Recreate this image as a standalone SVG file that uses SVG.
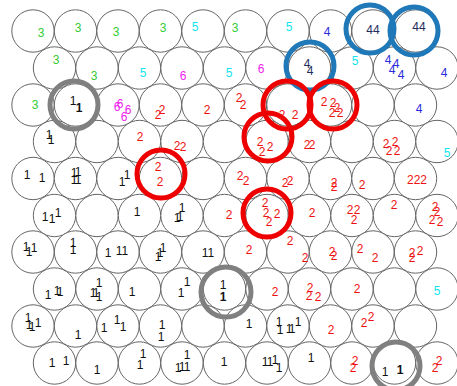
<svg xmlns="http://www.w3.org/2000/svg" width="457" height="386" viewBox="0 0 457 386">
<style>
.cell{fill:#fff;stroke:#666;stroke-width:1}
text{font-family:"Liberation Sans",Arial,sans-serif;font-size:12px;text-anchor:middle}
.g{fill:#33cc33}.c{fill:#11e4ee}.b{fill:#2a2ad8}.n{fill:#1f2d5c}.m{fill:#ee22ee}.r{fill:#ee1111}.k{fill:#111}
.bd{font-weight:bold}
.ring{fill:none;stroke-width:5}
.gray{stroke:#808080}.blue{stroke:#1f78b8}.red{stroke:#ee0000}
</style>
<rect width="457" height="386" fill="#fff"/>
<g id="grid">
<g id="cell-0-0"><circle class="cell" cx="33" cy="31" r="21.2"/></g>
<g id="cell-0-1"><circle class="cell" cx="75.5" cy="31" r="21.2"/></g>
<g id="cell-0-2"><circle class="cell" cx="118" cy="31" r="21.2"/></g>
<g id="cell-0-3"><circle class="cell" cx="160.5" cy="31" r="21.2"/></g>
<g id="cell-0-4"><circle class="cell" cx="203" cy="31" r="21.2"/></g>
<g id="cell-0-5"><circle class="cell" cx="245.5" cy="31" r="21.2"/></g>
<g id="cell-0-6"><circle class="cell" cx="288" cy="31" r="21.2"/></g>
<g id="cell-0-7"><circle class="cell" cx="330.5" cy="31" r="21.2"/></g>
<g id="cell-0-8"><circle class="cell" cx="373" cy="31" r="21.2"/></g>
<g id="cell-0-9"><circle class="cell" cx="415.5" cy="31" r="21.2"/></g>
<g id="cell-1-0"><circle class="cell" cx="54.5" cy="68" r="21.2"/></g>
<g id="cell-1-1"><circle class="cell" cx="97" cy="68" r="21.2"/></g>
<g id="cell-1-2"><circle class="cell" cx="139.5" cy="68" r="21.2"/></g>
<g id="cell-1-3"><circle class="cell" cx="182" cy="68" r="21.2"/></g>
<g id="cell-1-4"><circle class="cell" cx="224.5" cy="68" r="21.2"/></g>
<g id="cell-1-5"><circle class="cell" cx="267" cy="68" r="21.2"/></g>
<g id="cell-1-6"><circle class="cell" cx="309.5" cy="68" r="21.2"/></g>
<g id="cell-1-7"><circle class="cell" cx="352" cy="68" r="21.2"/></g>
<g id="cell-1-8"><circle class="cell" cx="394.5" cy="68" r="21.2"/></g>
<g id="cell-1-9"><circle class="cell" cx="437" cy="68" r="21.2"/></g>
<g id="cell-2-0"><circle class="cell" cx="33" cy="105" r="21.2"/></g>
<g id="cell-2-1"><circle class="cell" cx="75.5" cy="105" r="21.2"/></g>
<g id="cell-2-2"><circle class="cell" cx="118" cy="105" r="21.2"/></g>
<g id="cell-2-3"><circle class="cell" cx="160.5" cy="105" r="21.2"/></g>
<g id="cell-2-4"><circle class="cell" cx="203" cy="105" r="21.2"/></g>
<g id="cell-2-5"><circle class="cell" cx="245.5" cy="105" r="21.2"/></g>
<g id="cell-2-6"><circle class="cell" cx="288" cy="105" r="21.2"/></g>
<g id="cell-2-7"><circle class="cell" cx="330.5" cy="105" r="21.2"/></g>
<g id="cell-2-8"><circle class="cell" cx="373" cy="105" r="21.2"/></g>
<g id="cell-2-9"><circle class="cell" cx="415.5" cy="105" r="21.2"/></g>
<g id="cell-3-0"><circle class="cell" cx="54.5" cy="141.5" r="21.2"/></g>
<g id="cell-3-1"><circle class="cell" cx="97" cy="141.5" r="21.2"/></g>
<g id="cell-3-2"><circle class="cell" cx="139.5" cy="141.5" r="21.2"/></g>
<g id="cell-3-3"><circle class="cell" cx="182" cy="141.5" r="21.2"/></g>
<g id="cell-3-4"><circle class="cell" cx="224.5" cy="141.5" r="21.2"/></g>
<g id="cell-3-5"><circle class="cell" cx="267" cy="141.5" r="21.2"/></g>
<g id="cell-3-6"><circle class="cell" cx="309.5" cy="141.5" r="21.2"/></g>
<g id="cell-3-7"><circle class="cell" cx="352" cy="141.5" r="21.2"/></g>
<g id="cell-3-8"><circle class="cell" cx="394.5" cy="141.5" r="21.2"/></g>
<g id="cell-3-9"><circle class="cell" cx="437" cy="141.5" r="21.2"/></g>
<g id="cell-4-0"><circle class="cell" cx="33" cy="178.5" r="21.2"/></g>
<g id="cell-4-1"><circle class="cell" cx="75.5" cy="178.5" r="21.2"/></g>
<g id="cell-4-2"><circle class="cell" cx="118" cy="178.5" r="21.2"/></g>
<g id="cell-4-3"><circle class="cell" cx="160.5" cy="178.5" r="21.2"/></g>
<g id="cell-4-4"><circle class="cell" cx="203" cy="178.5" r="21.2"/></g>
<g id="cell-4-5"><circle class="cell" cx="245.5" cy="178.5" r="21.2"/></g>
<g id="cell-4-6"><circle class="cell" cx="288" cy="178.5" r="21.2"/></g>
<g id="cell-4-7"><circle class="cell" cx="330.5" cy="178.5" r="21.2"/></g>
<g id="cell-4-8"><circle class="cell" cx="373" cy="178.5" r="21.2"/></g>
<g id="cell-4-9"><circle class="cell" cx="415.5" cy="178.5" r="21.2"/></g>
<g id="cell-5-0"><circle class="cell" cx="54.5" cy="215.5" r="21.2"/></g>
<g id="cell-5-1"><circle class="cell" cx="97" cy="215.5" r="21.2"/></g>
<g id="cell-5-2"><circle class="cell" cx="139.5" cy="215.5" r="21.2"/></g>
<g id="cell-5-3"><circle class="cell" cx="182" cy="215.5" r="21.2"/></g>
<g id="cell-5-4"><circle class="cell" cx="224.5" cy="215.5" r="21.2"/></g>
<g id="cell-5-5"><circle class="cell" cx="267" cy="215.5" r="21.2"/></g>
<g id="cell-5-6"><circle class="cell" cx="309.5" cy="215.5" r="21.2"/></g>
<g id="cell-5-7"><circle class="cell" cx="352" cy="215.5" r="21.2"/></g>
<g id="cell-5-8"><circle class="cell" cx="394.5" cy="215.5" r="21.2"/></g>
<g id="cell-5-9"><circle class="cell" cx="437" cy="215.5" r="21.2"/></g>
<g id="cell-6-0"><circle class="cell" cx="33" cy="252" r="21.2"/></g>
<g id="cell-6-1"><circle class="cell" cx="75.5" cy="252" r="21.2"/></g>
<g id="cell-6-2"><circle class="cell" cx="118" cy="252" r="21.2"/></g>
<g id="cell-6-3"><circle class="cell" cx="160.5" cy="252" r="21.2"/></g>
<g id="cell-6-4"><circle class="cell" cx="203" cy="252" r="21.2"/></g>
<g id="cell-6-5"><circle class="cell" cx="245.5" cy="252" r="21.2"/></g>
<g id="cell-6-6"><circle class="cell" cx="288" cy="252" r="21.2"/></g>
<g id="cell-6-7"><circle class="cell" cx="330.5" cy="252" r="21.2"/></g>
<g id="cell-6-8"><circle class="cell" cx="373" cy="252" r="21.2"/></g>
<g id="cell-6-9"><circle class="cell" cx="415.5" cy="252" r="21.2"/></g>
<g id="cell-7-0"><circle class="cell" cx="54.5" cy="289" r="21.2"/></g>
<g id="cell-7-1"><circle class="cell" cx="97" cy="289" r="21.2"/></g>
<g id="cell-7-2"><circle class="cell" cx="139.5" cy="289" r="21.2"/></g>
<g id="cell-7-3"><circle class="cell" cx="182" cy="289" r="21.2"/></g>
<g id="cell-7-4"><circle class="cell" cx="224.5" cy="289" r="21.2"/></g>
<g id="cell-7-5"><circle class="cell" cx="267" cy="289" r="21.2"/></g>
<g id="cell-7-6"><circle class="cell" cx="309.5" cy="289" r="21.2"/></g>
<g id="cell-7-7"><circle class="cell" cx="352" cy="289" r="21.2"/></g>
<g id="cell-7-8"><circle class="cell" cx="394.5" cy="289" r="21.2"/></g>
<g id="cell-7-9"><circle class="cell" cx="437" cy="289" r="21.2"/></g>
<g id="cell-8-0"><circle class="cell" cx="33" cy="326" r="21.2"/></g>
<g id="cell-8-1"><circle class="cell" cx="75.5" cy="326" r="21.2"/></g>
<g id="cell-8-2"><circle class="cell" cx="118" cy="326" r="21.2"/></g>
<g id="cell-8-3"><circle class="cell" cx="160.5" cy="326" r="21.2"/></g>
<g id="cell-8-4"><circle class="cell" cx="203" cy="326" r="21.2"/></g>
<g id="cell-8-5"><circle class="cell" cx="245.5" cy="326" r="21.2"/></g>
<g id="cell-8-6"><circle class="cell" cx="288" cy="326" r="21.2"/></g>
<g id="cell-8-7"><circle class="cell" cx="330.5" cy="326" r="21.2"/></g>
<g id="cell-8-8"><circle class="cell" cx="373" cy="326" r="21.2"/></g>
<g id="cell-8-9"><circle class="cell" cx="415.5" cy="326" r="21.2"/></g>
<g id="cell-9-0"><circle class="cell" cx="54.5" cy="363" r="21.2"/></g>
<g id="cell-9-1"><circle class="cell" cx="97" cy="363" r="21.2"/></g>
<g id="cell-9-2"><circle class="cell" cx="139.5" cy="363" r="21.2"/></g>
<g id="cell-9-3"><circle class="cell" cx="182" cy="363" r="21.2"/></g>
<g id="cell-9-4"><circle class="cell" cx="224.5" cy="363" r="21.2"/></g>
<g id="cell-9-5"><circle class="cell" cx="267" cy="363" r="21.2"/></g>
<g id="cell-9-6"><circle class="cell" cx="309.5" cy="363" r="21.2"/></g>
<g id="cell-9-7"><circle class="cell" cx="352" cy="363" r="21.2"/></g>
<g id="cell-9-8"><circle class="cell" cx="394.5" cy="363" r="21.2"/></g>
<g id="cell-9-9"><circle class="cell" cx="437" cy="363" r="21.2"/></g>
</g>
<g id="rings">
<circle class="ring gray" cx="74" cy="105" r="24"/>
<circle class="ring gray" cx="226" cy="292" r="25"/>
<circle class="ring gray" cx="396" cy="366" r="24"/>
<circle class="ring blue" cx="370" cy="29" r="24"/>
<circle class="ring blue" cx="414" cy="31" r="24"/>
<circle class="ring blue" cx="310" cy="66" r="24"/>
<circle class="ring red" cx="287" cy="105" r="24"/>
<circle class="ring red" cx="333" cy="105" r="24"/>
<circle class="ring red" cx="268" cy="137" r="24"/>
<circle class="ring red" cx="161" cy="174" r="24"/>
<circle class="ring red" cx="267" cy="213" r="24"/>
</g>
<g id="labels">
<text class="g" x="41" y="37">3</text><text class="g" x="78" y="32">3</text><text class="g" x="116" y="36">3</text><text class="g" x="163" y="32">3</text><text class="c" x="195" y="31">5</text><text class="g" x="235" y="32">3</text><text class="c" x="289" y="31">5</text><text class="b" x="327" y="36">4</text><text class="n" x="373" y="34">44</text><text class="n" x="419" y="31">44</text>
<text class="g" x="56" y="64">3</text><text class="g" x="94" y="80">3</text><text class="c" x="143" y="77">5</text><text class="m" x="183" y="80">6</text><text class="c" x="229" y="77">5</text><text class="m" x="261" y="73">6</text><text class="n" x="307" y="68">4</text><text class="n" x="310" y="75">4</text><text class="c" x="355" y="65">5</text><text class="b" x="388" y="64">4</text><text class="b" x="396" y="68">4</text><text class="b" x="392" y="74">4</text><text class="b" x="401" y="79">4</text><text class="b" x="444" y="77">4</text>
<text class="g" x="35" y="109">3</text><text class="k" x="73" y="105">1</text><text class="k bd" x="79" y="112">1</text><text class="m" x="117" y="111">6</text><text class="m" x="120" y="108">6</text><text class="m" x="128" y="114">6</text><text class="m" x="124" y="121">6</text><text class="r" x="162" y="114">2</text><text class="r" x="158" y="119">2</text><text class="r" x="207" y="114">2</text><text class="r" x="239" y="102">2</text><text class="r" x="243" y="109">2</text><text class="r" x="282" y="119">2</text><text class="r" x="295" y="119">2</text><text class="r" x="324" y="106">2</text><text class="r" x="333" y="107">2</text><text class="r" x="337" y="112">2</text><text class="r" x="332" y="117">2</text><text class="r" x="340" y="117">2</text><text class="b" x="419" y="113">4</text>
<text class="k" x="49" y="139">1</text><text class="k" x="51" y="144">1</text><text class="r" x="140" y="141">2</text><text class="r" x="177" y="150">2</text><text class="r" x="183" y="151">2</text><text class="r" x="260" y="146">2</text><text class="r" x="270" y="151">2</text><text class="r" x="262" y="156">2</text><text class="r" x="307" y="149">2</text><text class="r" x="312" y="149">2</text><text class="r" x="386" y="148">2</text><text class="r" x="395" y="146">2</text><text class="r" x="389" y="155">2</text><text class="r" x="397" y="155">2</text><text class="c" x="447" y="157">5</text>
<text class="k" x="27" y="179">1</text><text class="k" x="42" y="182">1</text><text class="k" x="74" y="177">1</text><text class="k" x="78" y="176">1</text><text class="k" x="74" y="184">1</text><text class="k" x="78" y="184">1</text><text class="k" x="122" y="186">1</text><text class="k" x="127" y="179">1</text><text class="r" x="158" y="171">2</text><text class="r" x="160" y="186">2</text><text class="r" x="240" y="180">2</text><text class="r" x="246" y="185">2</text><text class="r" x="285" y="187">2</text><text class="r" x="290" y="185">2</text><text class="r" x="334" y="187">2</text><text class="r" x="334" y="191">2</text><text class="r" x="362" y="189">2</text><text class="r" x="417" y="184">222</text>
<text class="k" x="45" y="221">1</text><text class="k" x="52" y="223">1</text><text class="k" x="58" y="217">1</text><text class="k" x="137" y="216">1</text><text class="k" x="182" y="212">1</text><text class="k" x="177" y="222">1</text><text class="k" x="180" y="221">1</text><text class="r" x="229" y="219">2</text><text class="r" x="265" y="207">2</text><text class="r" x="266" y="217">2</text><text class="r" x="277" y="218">2</text><text class="r" x="269" y="226">2</text><text class="r" x="312" y="217">2</text><text class="r" x="350" y="214">2</text><text class="r" x="357" y="214">2</text><text class="r" x="354" y="224">2</text><text class="r" x="394" y="209">2</text><text class="r" x="435" y="211">2</text><text class="r" x="437" y="216">2</text><text class="r" x="432" y="224">2</text><text class="r" x="440" y="226">2</text>
<text class="k" x="26" y="251">1</text><text class="k" x="29" y="256">1</text><text class="k" x="34" y="252">1</text><text class="k" x="73" y="247">1</text><text class="k" x="73" y="254">1</text><text class="k" x="108" y="257">1</text><text class="k" x="122" y="255">11</text><text class="k" x="158" y="261">1</text><text class="k" x="160" y="257">1</text><text class="k" x="163" y="252">1</text><text class="k" x="208" y="257">11</text><text class="r" x="249" y="254">2</text><text class="r" x="290" y="245">2</text><text class="r" x="305" y="262">2</text><text class="r" x="332" y="256">2</text><text class="r" x="334" y="260">2</text><text class="r" x="360" y="253">2</text><text class="r" x="375" y="262">2</text><text class="r" x="412" y="257">2</text><text class="r" x="412" y="262">2</text><text class="r" x="420" y="255">2</text>
<text class="k" x="48" y="299">1</text><text class="k" x="57" y="295">1</text><text class="k" x="60" y="296">1</text><text class="k" x="93" y="297">1</text><text class="k" x="96" y="297">1</text><text class="k" x="99" y="287">1</text><text class="k" x="99" y="301">1</text><text class="k" x="132" y="296">1</text><text class="k" x="181" y="297">1</text><text class="k" x="187" y="286">1</text><text class="k" x="223" y="289">1</text><text class="k bd" x="223" y="301">1</text><text class="r" x="275" y="296">2</text><text class="r" x="310" y="292">2</text><text class="r" x="309" y="300">2</text><text class="r" x="318" y="301">2</text><text class="r" x="357" y="293">2</text><text class="c" x="437" y="295">5</text>
<text class="k" x="28" y="322">1</text><text class="k" x="29" y="329">1</text><text class="k" x="32" y="331">1</text><text class="k" x="38" y="327">1</text><text class="k" x="78" y="339">1</text><text class="k" x="104" y="332">1</text><text class="k" x="117" y="324">1</text><text class="k" x="123" y="331">1</text><text class="k" x="162" y="329">1</text><text class="k" x="161" y="341">1</text><text class="k" x="249" y="328">1</text><text class="k" x="279" y="326">1</text><text class="k" x="280" y="334">1</text><text class="k" x="289" y="333">1</text><text class="k" x="292" y="333">1</text><text class="k" x="298" y="326">1</text><text class="r" x="331" y="334">2</text><text class="r" x="364" y="327">2</text><text class="r" x="371" y="321">2</text>
<text class="k" x="52" y="367">1</text><text class="k" x="66" y="365">1</text><text class="k" x="97" y="374">1</text><text class="k" x="140" y="369">1</text><text class="k" x="143" y="358">1</text><text class="k" x="178" y="372">1</text><text class="k" x="182" y="371">1</text><text class="k" x="187" y="359">1</text><text class="k" x="187" y="371">1</text><text class="k" x="224" y="366">1</text><text class="k" x="265" y="366">1</text><text class="k" x="270" y="366">1</text><text class="k" x="275" y="364">1</text><text class="k" x="279" y="372">1</text><text class="k" x="311" y="362">1</text><text class="r" x="355" y="365">2</text><text class="r" x="353" y="372">2</text><text class="k" x="385" y="376">1</text><text class="k bd" x="400" y="374">1</text><text class="r" x="439" y="365">2</text><text class="r" x="435" y="372">2</text>
</g>
</svg>
